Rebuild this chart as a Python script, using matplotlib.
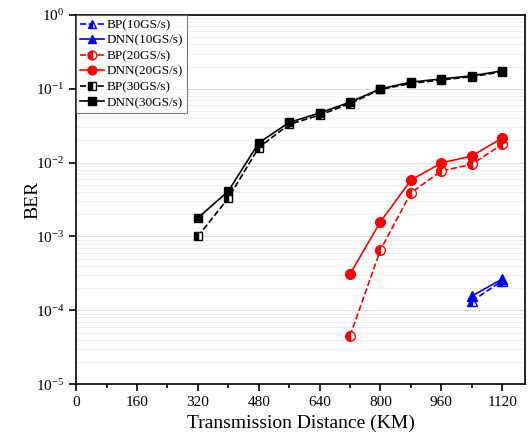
import matplotlib
matplotlib.use("Agg")
import matplotlib.pyplot as plt
from matplotlib.ticker import LogLocator, MultipleLocator, NullFormatter

plt.rcParams['font.family'] = ['Liberation Serif', 'DejaVu Serif']
plt.rcParams['mathtext.fontset'] = 'stix'

x10 = [1040, 1120]
bp10 = [1.33e-4, 2.5e-4]
dnn10 = [1.56e-4, 2.65e-4]

x20 = [720, 800, 880, 960, 1040, 1120]
bp20 = [4.5e-5, 6.6e-4, 3.9e-3, 7.7e-3, 9.5e-3, 0.0178]
dnn20 = [3.1e-4, 1.58e-3, 5.8e-3, 9.9e-3, 0.0123, 0.0215]

x30 = [320, 400, 480, 560, 640, 720, 800, 880, 960, 1040, 1120]
bp30 = [1.0e-3, 3.3e-3, 0.016, 0.033, 0.044, 0.063, 0.098, 0.118, 0.132, 0.146, 0.17]
dnn30 = [1.78e-3, 4.1e-3, 0.0185, 0.035, 0.047, 0.066, 0.10, 0.123, 0.136, 0.15, 0.175]

xticks = [0, 160, 320, 480, 640, 800, 960, 1120]

fig = plt.figure(figsize=(5.32, 4.4), dpi=100)
ax = fig.add_axes([0.143, 0.127, 0.844, 0.839])

blue = '#0000ff'
red = '#ff0000'
black = '#000000'
ms = 7

ax.plot(x10, bp10, ls='--', color=blue, marker='^', ms=ms, fillstyle='left',
        markerfacecoloralt='white', lw=1.2, label='BP(10GS/s)')
ax.plot(x10, dnn10, ls='-', color=blue, marker='^', ms=ms, lw=1.2, label='DNN(10GS/s)')
ax.plot(x20, bp20, ls='--', color=red, marker='o', ms=ms, fillstyle='left',
        markerfacecoloralt='white', lw=1.2, label='BP(20GS/s)')
ax.plot(x20, dnn20, ls='-', color=red, marker='o', ms=ms, lw=1.2, label='DNN(20GS/s)')
ax.plot(x30, bp30, ls='--', color=black, marker='s', ms=6, fillstyle='left',
        markerfacecoloralt='white', lw=1.2, label='BP(30GS/s)')
ax.plot(x30, dnn30, ls='-', color=black, marker='s', ms=6, lw=1.2, label='DNN(30GS/s)')

ax.set_yscale('log')
ax.set_ylim(1e-5, 1)
ax.set_xlim(0, 1180)
ax.set_xticks(xticks)
ax.xaxis.set_minor_locator(MultipleLocator(80))
ax.yaxis.set_major_locator(LogLocator(base=10, numticks=10))
ax.yaxis.set_minor_locator(LogLocator(base=10, subs=range(2, 10), numticks=20))
ax.yaxis.set_minor_formatter(NullFormatter())
ax.tick_params(axis='y', which='minor', length=0)
ax.tick_params(axis='both', which='major', direction='out', length=5, width=1.2, labelsize=11)
ax.tick_params(axis='x', which='minor', direction='out', length=3, width=1.2)
ax.grid(True, which='major', axis='y', color='#dddddd', lw=0.8)
ax.grid(True, which='minor', axis='y', color='#eeeeee', lw=0.6)
ax.set_axisbelow(True)
for s in ax.spines.values():
    s.set_linewidth(1.2)

ax.set_xlabel('Transmission Distance (KM)', fontsize=14)
ax.set_ylabel('BER', fontsize=14, labelpad=-4)

leg = ax.legend(loc='upper left', fontsize=9.5, frameon=True, fancybox=False,
                edgecolor='#555555', borderaxespad=0.0, handlelength=1.8,
                labelspacing=0.25, borderpad=0.3, handletextpad=0.2, markerscale=0.9)
leg.get_frame().set_linewidth(0.8)

fig.savefig('out.png', dpi=100)
